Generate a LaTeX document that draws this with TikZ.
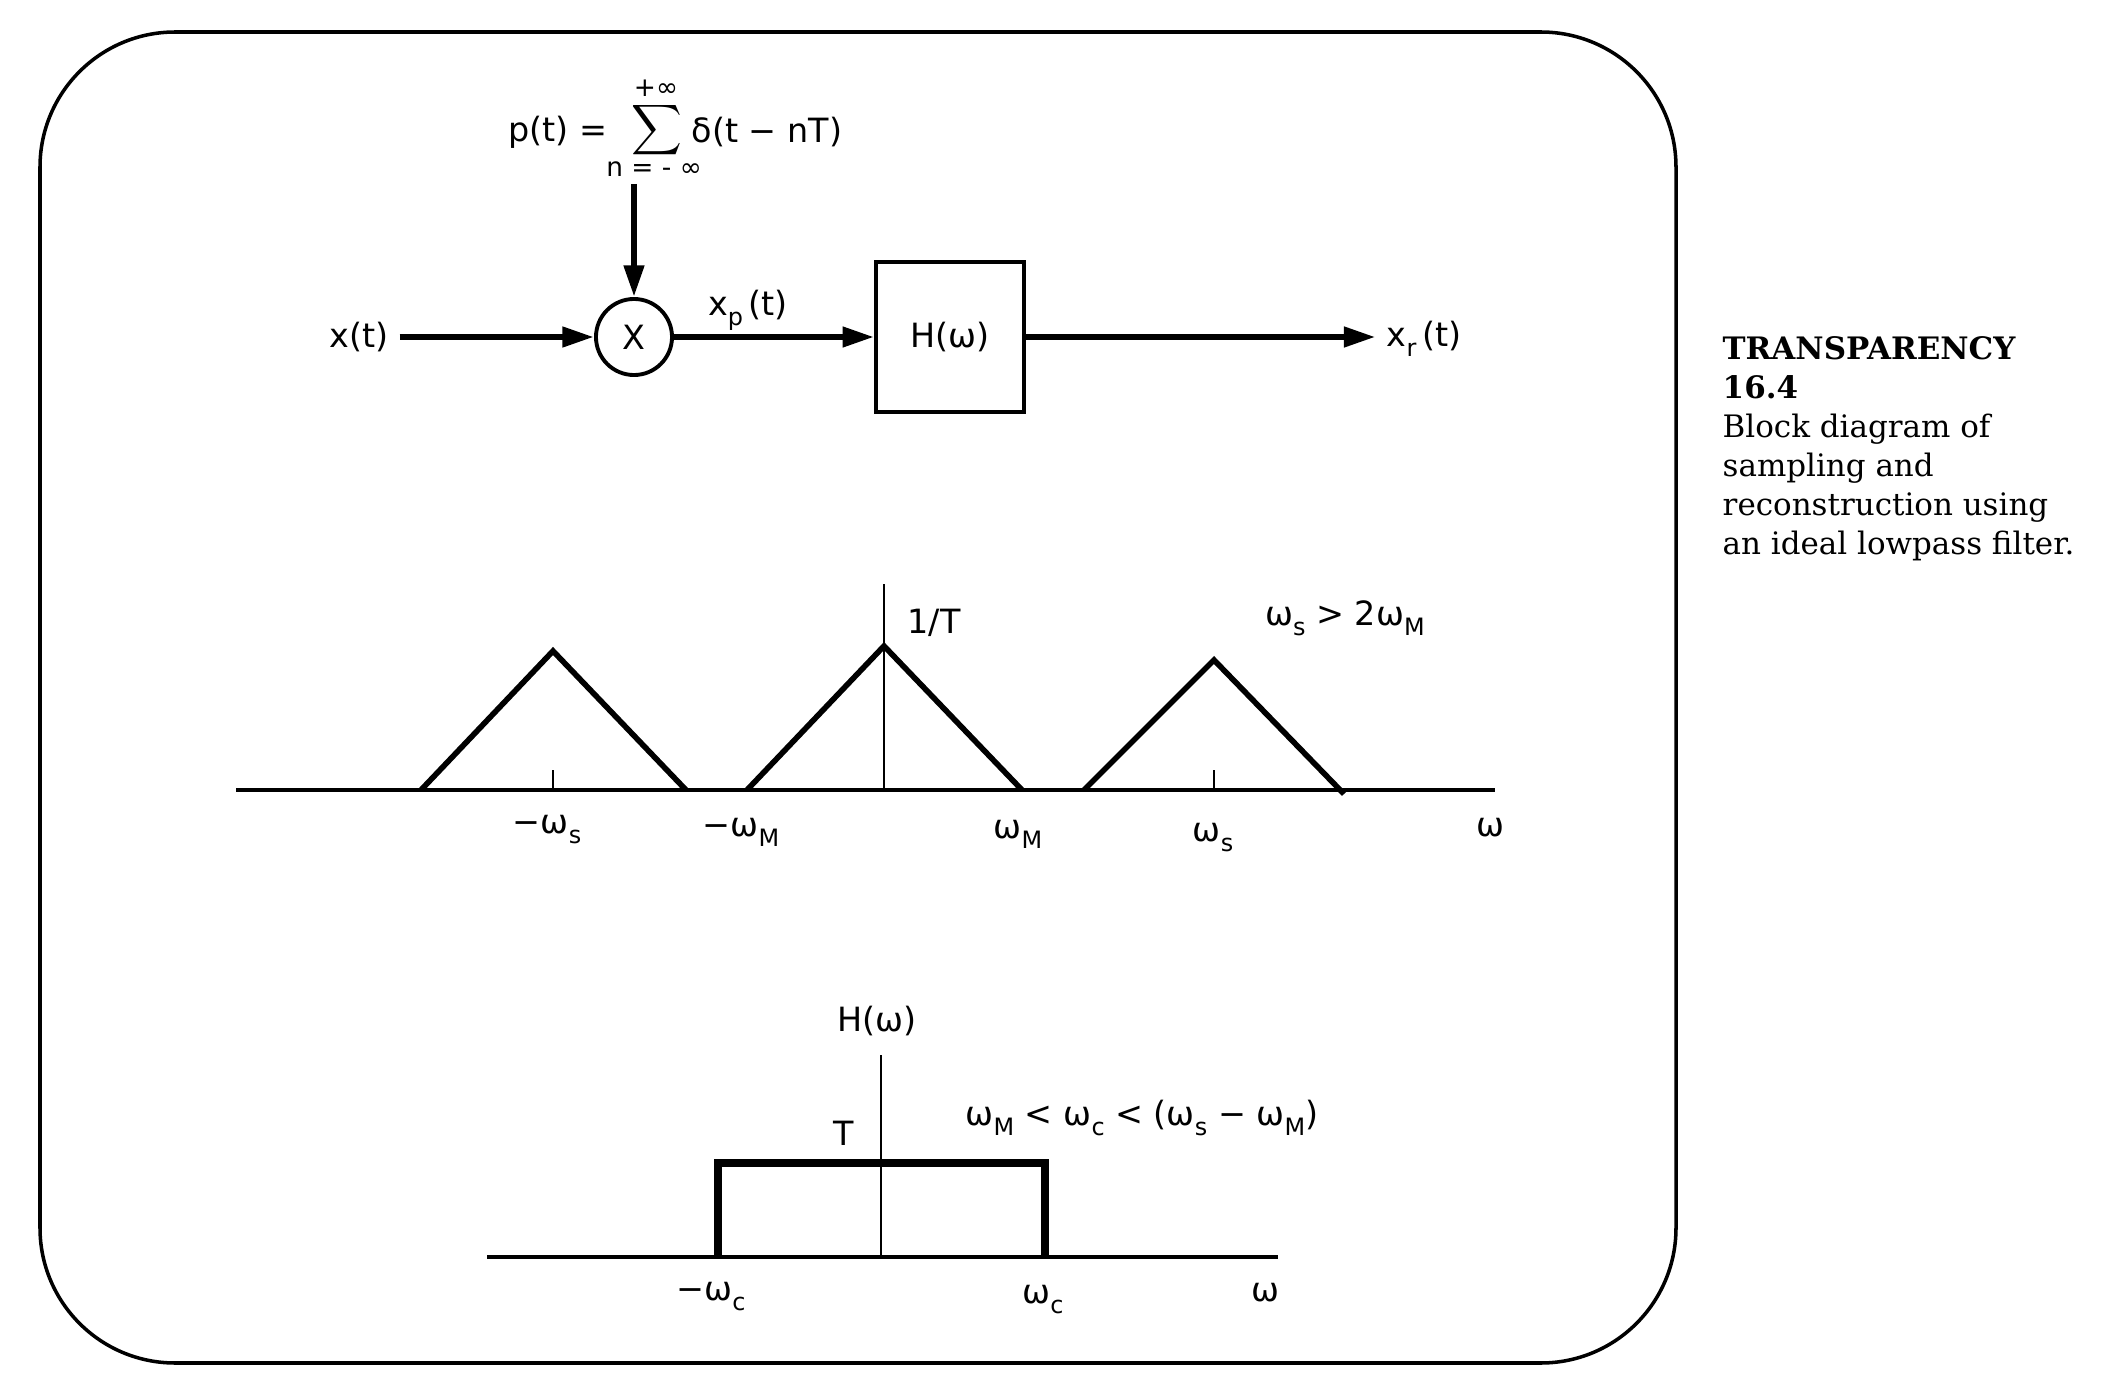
\documentclass[tikz,border=0pt]{standalone}
\usepackage{fontspec}
\setmainfont{DejaVu Sans}
\newfontfamily\capfont{DejaVu Serif}
\usetikzlibrary{arrows.meta, positioning}
\newcommand{\lsub}[1]{\raisebox{-0.55ex}{\fontsize{6.8}{7}\selectfont#1}}

\begin{document}
\begin{tikzpicture}[
    x=0.01cm, y=-0.01cm,
    font=\fontsize{9.5}{11}\selectfont,
    block/.style={rectangle, draw, line width=1pt, minimum width=1.48cm, minimum height=1.5cm},
    mult/.style={circle, draw, line width=1.1pt, minimum size=0.76cm, inner sep=0pt},
    arrow/.style={-{Triangle[length=9pt, width=5.5pt]}, line width=1.8pt},
    lbl/.style={inner sep=3pt},
    limit/.style={font=\fontsize{7.5}{8}\selectfont, inner sep=0pt},
    axis/.style={line width=1pt},
    vaxis/.style={line width=0.6pt},
    spec/.style={line width=1.6pt, line join=miter},
    caption/.style={font=\capfont\fontsize{8.8}{11.1}\selectfont, align=left, inner sep=0pt, anchor=north west}
]
    \useasboundingbox (0,0) rectangle (2108,1388);

    % Frame
    \draw[line width=1pt, rounded corners=1.35cm] (40,32) rectangle (1676,1363);

    % Impulse train
    \node[inner sep=0pt] (pt) at (558,132) {p(t) =};
    \node[inner sep=0pt] (psum) at (657,130) {\fontsize{8.5}{9}\selectfont$\displaystyle\sum$};
    \node[limit] (ptop) at (656,88) {+∞};
    \node[limit] (pbot) at (654,169) {n = - ∞};
    \node[inner sep=0pt] (pdelta) at (767,132) {δ(t − nT)};

    % Block diagram
    \node[lbl] (xt) at (359,337) {x(t)};
    \node[mult] (mult) at (634,337) {X};
    \node[block] (filter) at (950,337) {H(ω)};
    \node[lbl] (xr) at (1424,339) {x\lsub{r}\,(t)};
    \node[inner sep=0pt] (xp) at (748,310) {x\lsub{p}\,(t)};
    \coordinate (pin) at (634,184);

    % Arrows
    \draw[arrow] (pin) -- (mult);
    \draw[arrow] (xt) -- (mult);
    \draw[arrow] (mult) -- (filter);
    \draw[arrow] (filter) -- (xr.west |- filter);

    % Spectrum of sampled signal
    \draw[axis] (236,790) -- (1495,790);
    \draw[vaxis] (884,584) -- (884,790);
    \draw[vaxis] (553,770) -- (553,790);
    \draw[vaxis] (1214,770) -- (1214,790);
    \draw[spec] (421,790) -- (553,651) -- (686,790);
    \draw[spec] (747,790) -- (884,646) -- (1022,790);
    \draw[spec] (1084,790) -- (1214,660) -- (1344,794);
    \node (ws1) at (547,830) {−ω\lsub{s}};
    \node (wm1) at (741,832) {−ω\lsub{M}};
    \node (wm2) at (1018,834) {ω\lsub{M}};
    \node (ws2) at (1213,838) {ω\lsub{s}};
    \node (w1) at (1490,828) {ω};
    \node (amp1) at (934,623) {1/T};
    \node (cond1) at (1345,618) {ω\lsub{s} > 2ω\lsub{M}};

    % Ideal lowpass filter
    \draw[axis] (487,1257) -- (1278,1257);
    \draw[vaxis] (881,1055) -- (881,1257);
    \draw[spec, line width=2pt] (718,1257) -- (718,1163) -- (1045,1163) -- (1045,1257);
    \node (hw) at (877,1021) {H(ω)};
    \node (amp2) at (844,1133) {T};
    \node (cond2) at (1142,1118) {ω\lsub{M} < ω\lsub{c} < (ω\lsub{s} − ω\lsub{M})};
    \node (wc1) at (711,1297) {−ω\lsub{c}};
    \node (wc2) at (1043,1300) {ω\lsub{c}};
    \node (w2) at (1265,1293) {ω};

    % Caption
    \node[caption] (cap) at (1722,336) {\textbf{TRANSPARENCY}\\\textbf{16.4}\\Block diagram of\\sampling and\\reconstruction using\\an ideal lowpass filter.};
\end{tikzpicture}
\end{document}
